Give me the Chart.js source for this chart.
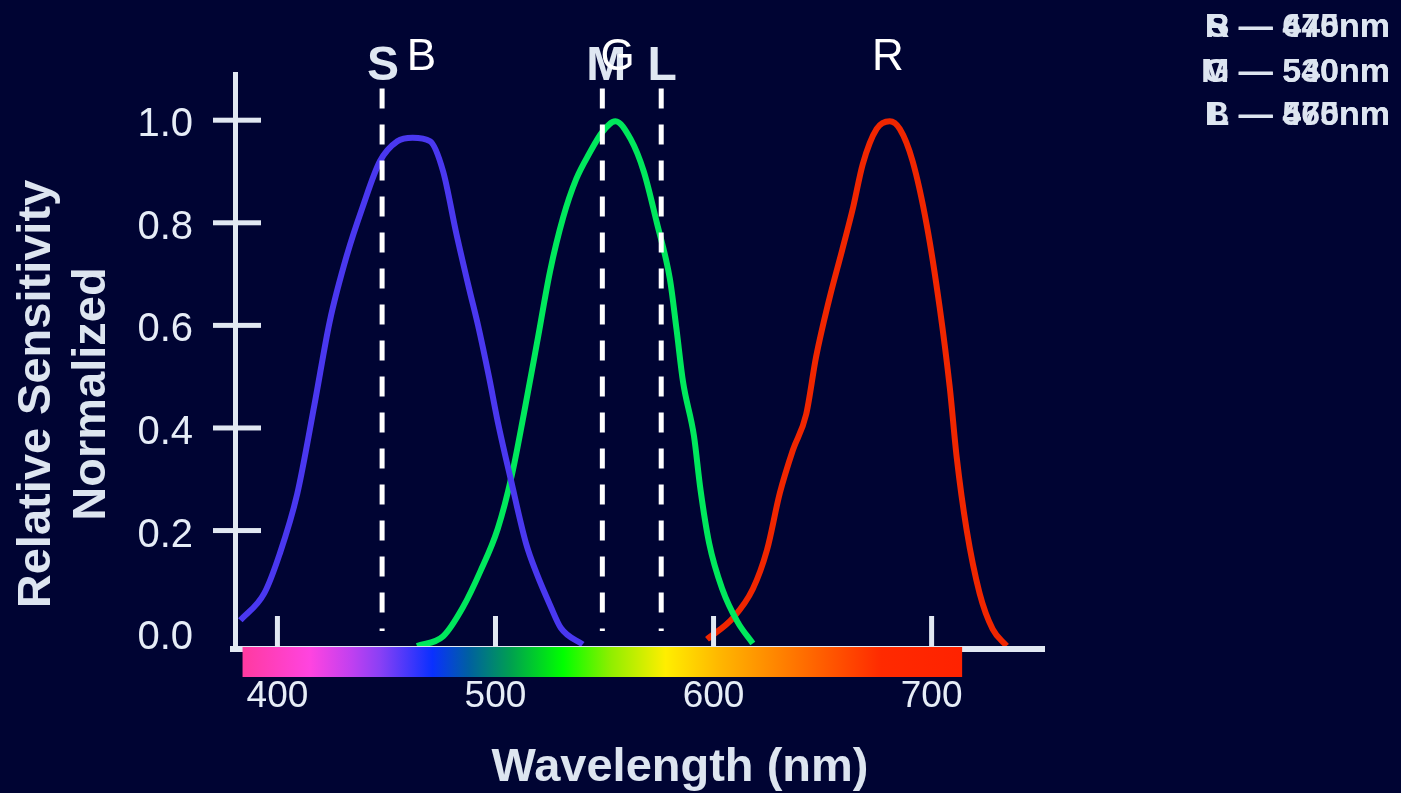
<!DOCTYPE html>
<html>
<head>
<meta charset="utf-8">
<title>Cone sensitivity</title>
<script src="https://cdn.jsdelivr.net/npm/chart.js@4.4.1/dist/chart.umd.min.js"></script>
<style>
  html, body { margin: 0; padding: 0; background: #000433; overflow: hidden; }
  canvas { display: block; }
</style>
</head>
<body>
<canvas id="cones" width="1401" height="793"></canvas>
<script>
// spectral sensitivity curves (wavelength nm / normalised value)
const blueWl  = [383, 394, 401, 409, 417, 424, 432, 439, 447, 455, 462, 470, 476, 482, 488, 492, 497, 501, 507, 514, 519, 525, 530, 540];
const blueVal = [0.025, 0.078, 0.154, 0.27, 0.446, 0.608, 0.739, 0.83, 0.92, 0.959, 0.966, 0.959, 0.90, 0.78, 0.67, 0.60, 0.50, 0.413, 0.30, 0.175, 0.115, 0.055, 0.01, -0.022];

const greenWl  = [464, 476, 485, 493, 501, 507.5, 513, 519, 525, 531, 537, 543, 549, 555, 562, 568, 574, 580, 583, 586, 591, 594, 598, 604, 611, 618];
const greenVal = [-0.025, -0.006, 0.05, 0.12, 0.203, 0.308, 0.427, 0.565, 0.705, 0.81, 0.885, 0.935, 0.977, 0.998, 0.963, 0.90, 0.80, 0.69, 0.593, 0.49, 0.385, 0.28, 0.175, 0.086, 0.022, -0.02];

const redWl  = [597, 609, 618, 624.5, 630.4, 636.4, 642.5, 647, 653, 659, 664, 668.4, 674.8, 680.8, 685.4, 691.3, 697.8, 703.7, 708.3, 711.5, 716, 722, 728, 734.4];
const redVal = [-0.012, 0.03, 0.086, 0.162, 0.273, 0.357, 0.427, 0.538, 0.65, 0.747, 0.83, 0.914, 0.983, 0.998, 0.983, 0.92, 0.795, 0.635, 0.48, 0.343, 0.203, 0.078, 0.008, -0.025];

// dashed cone markers
const coneNames = ['S', 'M', 'L'];
const coneWl    = [448, 549, 576];
const dashRange = [1.062, 0.004];

// curve peak letters
const peakNames = ['B', 'G', 'R'];
const peakWl    = [466, 556, 680];

// corner legend (two overlapping sets)
const legendA = ['R \u2014 670nm', 'G \u2014 530nm', 'B \u2014 465nm'];
const legendB = ['S \u2014 445nm', 'M \u2014 540nm', 'L \u2014 570nm'];

// axes
const xTicks = [400, 500, 600, 700];
const yTicks = [0, 0.2, 0.4, 0.6, 0.8, 1.0];

// spectrum bar under the x axis
const barWl     = [384, 415, 434, 447, 471, 488, 507, 531, 553, 578, 604, 640, 677, 714];
const barColors = ['#ff3aa0', '#ff44e0', '#c040f0', '#8a40f5', '#0a30ff', '#0060a0', '#00a050',
                   '#00ff00', '#90ee00', '#ffee00', '#ffb400', '#ff7000', '#ff2a00', '#ff2200'];

const FONT = "'Liberation Sans', Arial, sans-serif";
const AXIS = '#e1e8f2';
const BG = '#000433';

const toPoints = (xs, ys) => xs.map((x, i) => ({ x: x, y: ys[i] }));

function curve(label, xs, ys, color) {
    return {
        label: label,
        data: toPoints(xs, ys),
        borderColor: color,
        borderWidth: 6,
        pointRadius: 0,
        cubicInterpolationMode: 'monotone',
        order: 2
    };
}

function dashLine(name, wl) {
    return {
        label: name,
        data: [{ x: wl, y: dashRange[0] }, { x: wl, y: dashRange[1] }],
        borderColor: '#ffffff',
        borderWidth: 5,
        borderDash: [20, 16],
        borderCapStyle: 'butt',
        pointRadius: 0,
        order: 1
    };
}

// axis lines, ticks, colour bar and the loose text
const decor = {
    id: 'decor',
    beforeDraw(chart) {
        const ctx = chart.ctx;
        ctx.save();
        ctx.fillStyle = BG;
        ctx.fillRect(0, 0, chart.width, chart.height);
        ctx.restore();
    },
    afterDatasetsDraw(chart) {
        const ctx = chart.ctx;
        const xs = chart.scales.x;
        const ys = chart.scales.y;
        const area = chart.chartArea;
        const base = area.bottom;
        ctx.save();
        ctx.fillStyle = AXIS;

        // y axis line + ticks
        ctx.fillRect(area.left - 3, area.top - 1, 5, base - area.top + 6);
        yTicks.forEach(v => {
            if (v === 0) return;
            const y = ys.getPixelForValue(v);
            ctx.fillRect(area.left - 23, y - 2.5, 48, 5);
        });

        // x axis line + ticks
        ctx.fillRect(area.left - 6, base - 1, area.right - area.left + 6, 6);
        xTicks.forEach(v => {
            const x = xs.getPixelForValue(v);
            ctx.fillRect(x - 2.5, base - 31, 5, 31);
        });

        // spectrum bar
        const w0 = barWl[0], w1 = barWl[barWl.length - 1];
        const x0 = xs.getPixelForValue(w0);
        const x1 = xs.getPixelForValue(w1);
        const grad = ctx.createLinearGradient(x0, 0, x1, 0);
        barWl.forEach((w, i) => grad.addColorStop(Math.min(1, Math.max(0, (w - w0) / (w1 - w0))), barColors[i]));
        ctx.fillStyle = grad;
        ctx.fillRect(x0, base, x1 - x0, 30);
        ctx.restore();
    },
    afterDraw(chart) {
        const ctx = chart.ctx;
        const xs = chart.scales.x;
        ctx.save();
        ctx.textAlign = 'center';
        ctx.textBaseline = 'alphabetic';

        // cone letters (bold) and peak letters (regular)
        ctx.fillStyle = '#dfe7f2';
        ctx.font = 'bold 48px ' + FONT;
        coneNames.forEach((n, i) => ctx.fillText(n, xs.getPixelForValue(coneWl[i]) + (n === 'M' ? 4 : 1), 80));
        ctx.fillStyle = '#ffffff';
        ctx.font = '44px ' + FONT;
        peakNames.forEach((n, i) => ctx.fillText(n, xs.getPixelForValue(peakWl[i]), 70));

        // corner legend
        ctx.fillStyle = '#dde5f0';
        ctx.font = 'bold 34px ' + FONT;
        ctx.textAlign = 'right';
        [37, 82, 125].forEach((y, i) => {
            ctx.fillText(legendA[i], 1390, y);
            ctx.fillText(legendB[i], 1390, y);
        });

        // axis titles
        ctx.fillStyle = '#dde5f0';
        ctx.font = 'bold 47px ' + FONT;
        ctx.textAlign = 'center';
        ctx.textBaseline = 'middle';
        ctx.fillText('Wavelength (nm)', 680, 768);
        ctx.translate(0, 394);
        ctx.rotate(-Math.PI / 2);
        ctx.fillText('Relative Sensitivity', 0, 37);
        ctx.fillText('Normalized', 0, 92);
        ctx.restore();
    }
};

const chart = new Chart(document.getElementById('cones'), {
    type: 'line',
    data: {
        datasets: [
            ...coneNames.map((n, i) => dashLine(n, coneWl[i])),
            curve('B', blueWl, blueVal, '#4a38f0'),
            curve('G', greenWl, greenVal, '#00e85c'),
            curve('R', redWl, redVal, '#f02600')
        ]
    },
    options: {
        responsive: false,
        animation: false,
        devicePixelRatio: 1,
        layout: { padding: { left: 0, top: 73, right: 356, bottom: 0 } },
        plugins: { legend: { display: false }, tooltip: { enabled: false } },
        scales: {
            x: {
                type: 'linear',
                min: 381,
                max: 752,
                afterFit: s => { s.height = 146; },
                afterBuildTicks: s => { s.ticks = xTicks.map(v => ({ value: v })); },
                grid: { display: false, drawTicks: false },
                border: { display: false },
                ticks: {
                    color: '#e6edf7',
                    font: { family: FONT, size: 37 },
                    padding: 28,
                    maxRotation: 0,
                    autoSkip: false,
                    callback: v => String(v)
                }
            },
            y: {
                type: 'linear',
                min: -0.027,
                max: 1.092,
                afterFit: s => { s.width = 236; },
                afterBuildTicks: s => { s.ticks = yTicks.map(v => ({ value: v })); },
                grid: { display: false, drawTicks: false },
                border: { display: false },
                ticks: {
                    color: '#e6edf7',
                    font: { family: FONT, size: 40 },
                    padding: 43,
                    labelOffset: 5,
                    autoSkip: false,
                    callback: v => v.toFixed(1)
                }
            }
        }
    },
    plugins: [decor]
});
</script>
</body>
</html>
